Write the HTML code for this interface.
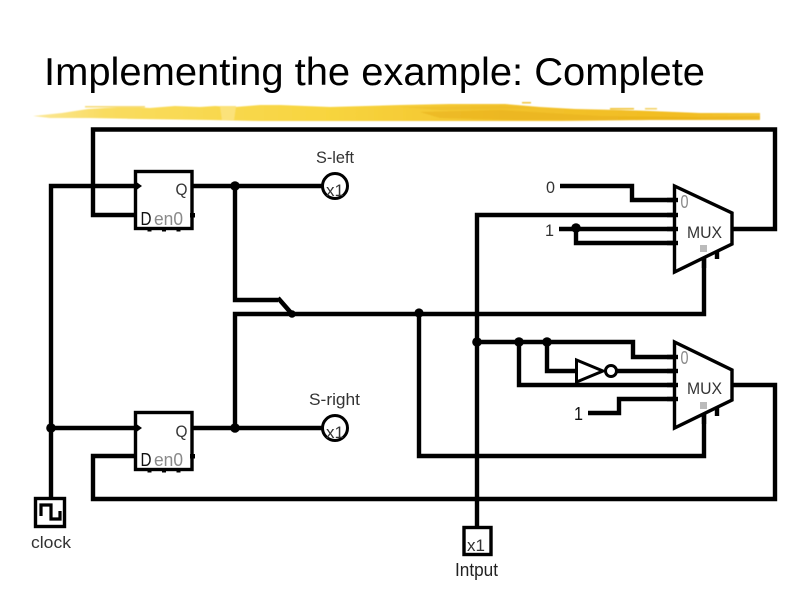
<!DOCTYPE html>
<html>
<head>
<meta charset="utf-8">
<style>
html,body{margin:0;padding:0;background:#fff;width:794px;height:595px;overflow:hidden}
svg{display:block}
text{font-family:"Liberation Sans",sans-serif}
.w{fill:none;stroke:#000;stroke-width:4.4;stroke-linejoin:miter;stroke-linecap:butt}
.b{fill:#fff;stroke:#000;stroke-width:3.4}
.t{fill:#333;font-size:17px}
.g{fill:#8a8a8a;font-size:18px}
</style>
</head>
<body>
<svg width="794" height="595" viewBox="0 0 794 595" xmlns="http://www.w3.org/2000/svg">
<defs>
<filter id="s" x="-2%" y="-30%" width="104%" height="160%"><feGaussianBlur stdDeviation="0.6"/></filter>
<linearGradient id="y" x1="0" x2="1" y1="0" y2="0">
<stop offset="0" stop-color="#fbe89a"/><stop offset=".1" stop-color="#f9dc5f"/><stop offset=".4" stop-color="#f8d53f"/><stop offset=".65" stop-color="#f2c22c"/><stop offset=".9" stop-color="#f2bd22"/><stop offset="1" stop-color="#f3c535"/>
</linearGradient>
</defs>
<rect width="794" height="595" fill="#fff"/>
<text x="44" y="85" font-size="39" fill="#000" textLength="661" lengthAdjust="spacingAndGlyphs">Implementing the example: Complete</text>

<g filter="url(#s)">
<polygon fill="url(#y)" points="33,116 62,113 88,109 105,108 130,107 150,108 175,106 200,107 215,106 235,107 260,105 280,105 330,107 400,105 450,104 505,104 540,107 575,109 620,110 650,111 700,113 760,113 760,120 720,120 650,120 560,121 480,121 400,121 330,121 260,121 210,120 140,119 90,118 50,118"/>
<polygon fill="#e8ae1c" opacity=".55" points="420,112 500,110 600,116 700,117 760,116 760,119 650,120 520,120 440,118"/>
<polygon fill="#e9b428" opacity=".35" points="400,107 500,106 540,108 440,110"/>
<polygon fill="#fbe27a" points="220,106 236,106 234,120 222,120"/>
<rect x="522" y="102" width="9" height="1.500" fill="#f0c43a"/>
<rect x="610" y="108" width="24" height="1.500" fill="#f0c43a"/>
<rect x="645" y="108" width="12" height="1.500" fill="#f3d060"/>
<rect x="85" y="106" width="60" height="1.500" fill="#f6dc78"/>
</g>

<!-- wires -->
<g class="w">
<polyline points="135,215 93,215 93,129.5 775,129.5 775,229 732,229"/>
<polyline points="135,186 51,186 51,498"/>
<line x1="51" y1="428" x2="135" y2="428"/>
<line x1="192" y1="186" x2="323" y2="186"/>
<line x1="192" y1="428" x2="323" y2="428"/>
<polyline points="235,186 235,300 278,300"/>
<polyline points="235,428 235,314 704,314 704,256"/>
<line x1="278" y1="298" x2="292" y2="314" stroke-width="4.6"/>
<polyline points="419,314 419,456 704,456 704,412"/>
<polyline points="560,186 632,186 632,200 675,200"/>
<polyline points="675,215 477,215 477,527"/>
<line x1="559" y1="229" x2="675" y2="229"/>
<polyline points="576,229 576,243 675,243"/>
<polyline points="477,342 633,342 633,357 675,357"/>
<polyline points="519,342 519,385 675,385"/>
<polyline points="547,342 547,371 577,371"/>
<line x1="617" y1="371" x2="675" y2="371"/>
<polyline points="588,413 619,413 619,399 675,399"/>
<polyline points="732,385 775,385 775,499 93,499 93,456 135,456"/>
<line x1="717" y1="252" x2="717" y2="259" />
<line x1="717" y1="408" x2="717" y2="416"/>
</g>

<!-- junctions -->
<g fill="#000">
<circle cx="235" cy="186" r="4.8"/>
<circle cx="235" cy="428" r="4.8"/>
<circle cx="51" cy="428" r="4.8"/>
<circle cx="292" cy="314" r="3.8"/>
<circle cx="419" cy="313" r="4.6"/>
<circle cx="477" cy="342" r="4.8"/>
<circle cx="519" cy="342" r="4.8"/>
<circle cx="547" cy="342" r="4.8"/>
<circle cx="576" cy="228" r="4.8"/>
</g>

<!-- flip flops -->
<rect class="b" x="135.5" y="171.5" width="56.5" height="57"/>
<rect class="b" x="135.5" y="412.5" width="56.5" height="57"/>
<g fill="#000">
<polygon points="135,181 142,186 135,191"/>
<polygon points="135,423 142,428 135,433"/>
<rect x="190" y="213" width="5" height="4.500"/><rect x="190" y="454" width="5" height="4.500"/>
<rect x="147.500" y="229" width="4" height="2.500"/><rect x="162" y="229" width="4" height="2.500"/><rect x="176.500" y="229" width="4" height="2.500"/>
<rect x="147.500" y="470" width="4" height="2.500"/><rect x="162" y="470" width="4" height="2.500"/><rect x="176.500" y="470" width="4" height="2.500"/>
</g>
<text x="175.500" y="195" class="t" textLength="12" lengthAdjust="spacingAndGlyphs">Q</text>
<text x="175.500" y="437" class="t" textLength="12" lengthAdjust="spacingAndGlyphs">Q</text>
<text x="140.500" y="225" fill="#111" font-size="18" textLength="11" lengthAdjust="spacingAndGlyphs">D</text>
<text x="140.500" y="466" fill="#111" font-size="18" textLength="11" lengthAdjust="spacingAndGlyphs">D</text>
<text x="154" y="225" class="g" textLength="29" lengthAdjust="spacingAndGlyphs">en0</text>
<text x="154" y="466" class="g" textLength="29" lengthAdjust="spacingAndGlyphs">en0</text>

<!-- outputs -->
<circle cx="335" cy="186" r="12.500" fill="#fff" stroke="#000" stroke-width="3"/>
<circle cx="335" cy="428" r="12.500" fill="#fff" stroke="#000" stroke-width="3"/>
<text x="326" y="196" class="t" textLength="18" lengthAdjust="spacingAndGlyphs">x1</text>
<text x="326" y="438" class="t" textLength="18" lengthAdjust="spacingAndGlyphs">x1</text>
<text x="316" y="163" class="t" textLength="38" lengthAdjust="spacingAndGlyphs">S-left</text>
<text x="309" y="405" class="t" textLength="51" lengthAdjust="spacingAndGlyphs">S-right</text>

<!-- muxes -->
<g fill="#fff" stroke="#000" stroke-width="3.4">
<polygon points="674.500,186 732,213 732,244 674.500,272"/>
<polygon points="674.500,342 732,370 732,400 674.500,428"/>
</g>
<g class="w">
<line x1="704" y1="258" x2="704" y2="268"/>
<line x1="704" y1="414" x2="704" y2="424"/>
<line x1="667" y1="200" x2="678" y2="200"/><line x1="667" y1="215" x2="678" y2="215"/><line x1="667" y1="229" x2="678" y2="229"/><line x1="667" y1="243" x2="678" y2="243"/>
<line x1="667" y1="357" x2="678" y2="357"/><line x1="667" y1="371" x2="678" y2="371"/><line x1="667" y1="385" x2="678" y2="385"/><line x1="667" y1="399" x2="678" y2="399"/>
</g>
<rect x="700" y="245" width="7" height="7" fill="#bbb"/>
<rect x="700" y="402" width="7" height="7" fill="#bbb"/>
<text x="680.500" y="208" class="g" textLength="8" lengthAdjust="spacingAndGlyphs">0</text>
<text x="680.500" y="364" class="g" textLength="8" lengthAdjust="spacingAndGlyphs">0</text>
<text x="687" y="238" class="t" textLength="35" lengthAdjust="spacingAndGlyphs">MUX</text>
<text x="687" y="394" class="t" textLength="35" lengthAdjust="spacingAndGlyphs">MUX</text>

<!-- inverter -->
<polygon points="576.500,360 603,371 576.500,382" fill="#fff" stroke="#000" stroke-width="3"/>
<circle cx="611" cy="371" r="5.500" fill="#fff" stroke="#000" stroke-width="3"/>

<!-- constants -->
<text x="546" y="193" class="t" textLength="9" lengthAdjust="spacingAndGlyphs">0</text>
<text x="545" y="236" class="t" textLength="9" lengthAdjust="spacingAndGlyphs">1</text>
<text x="574" y="420" fill="#111" font-size="18" textLength="9" lengthAdjust="spacingAndGlyphs">1</text>

<!-- input box -->
<rect class="b" x="464" y="527.500" width="27" height="27"/>
<text x="467" y="551" class="t" textLength="18" lengthAdjust="spacingAndGlyphs">x1</text>
<text x="455" y="576" fill="#222" font-size="18" textLength="43" lengthAdjust="spacingAndGlyphs">Intput</text>

<!-- clock -->
<rect class="b" x="35.500" y="498.500" width="29" height="28"/>
<polyline points="41,516 41,505 51,505 51,519 60,519 60,511" fill="none" stroke="#000" stroke-width="3.200"/>
<text x="31" y="548" class="t" textLength="40" lengthAdjust="spacingAndGlyphs">clock</text>
</svg>
</body>
</html>
